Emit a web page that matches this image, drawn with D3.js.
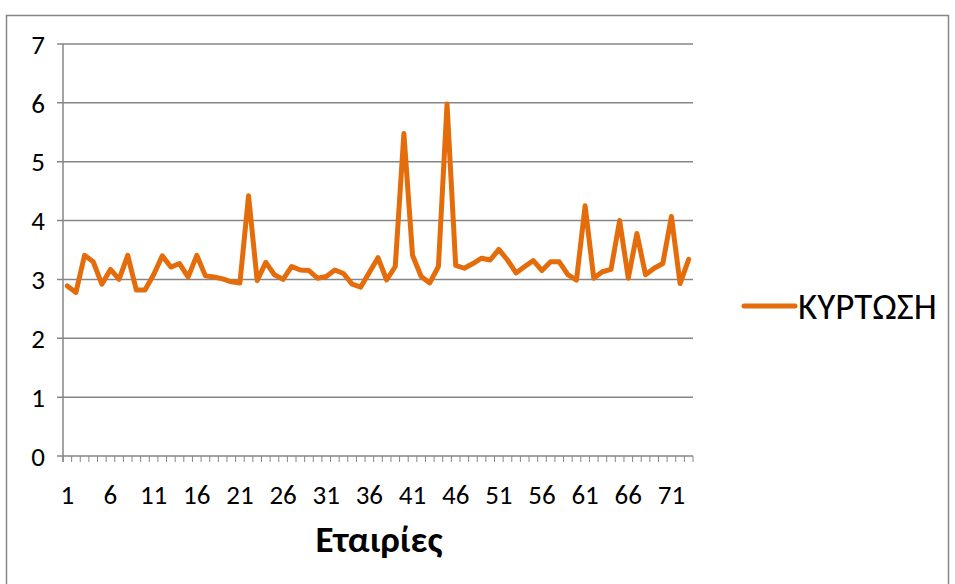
<!DOCTYPE html>
<html>
<head>
<meta charset="utf-8">
<script src="https://cdn.jsdelivr.net/npm/d3@7"></script>
<style>
  html, body { margin: 0; padding: 0; background: #fff; }
  svg text { font-family: Carlito, Lato, "Open Sans", sans-serif; fill: #000; }
</style>
</head>
<body>
<svg id="chart" width="955" height="584"></svg>
<script>
// Kurtosis per company (73 companies)
const companies = d3.range(1, 74);
const kurtosis = [
  2.89, 2.78, 3.41, 3.30, 2.92, 3.17, 3.00, 3.41, 2.82, 2.82,
  3.08, 3.40, 3.21, 3.27, 3.04, 3.41, 3.06, 3.04, 3.01, 2.96,
  2.94, 4.42, 2.98, 3.29, 3.08, 3.00, 3.22, 3.16, 3.15, 3.02,
  3.05, 3.16, 3.10, 2.92, 2.87, 3.12, 3.37, 2.99, 3.22, 5.48,
  3.41, 3.05, 2.94, 3.22, 5.98, 3.24, 3.19, 3.27, 3.36, 3.33,
  3.51, 3.33, 3.11, 3.22, 3.32, 3.15, 3.30, 3.30, 3.08, 2.99,
  4.25, 3.02, 3.13, 3.17, 4.00, 3.02, 3.78, 3.08, 3.19, 3.27,
  4.07, 2.93, 3.34
];
const yTicks = [0, 1, 2, 3, 4, 5, 6, 7];
const xLabelStep = 5;
const seriesName = "ΚΥΡΤΩΣΗ";
const xTitle = "Εταιρίες";

const svg = d3.select("#chart");
const gridColor = "#868686";
const lineColor = "#E46C0A";

// outer chart frame
svg.append("rect")
  .attr("x", 6.5).attr("y", 15.5)
  .attr("width", 942).attr("height", 570)
  .attr("fill", "none").attr("stroke", gridColor).attr("stroke-width", 1.5);

const plot = { left: 63, right: 693, top: 44, bottom: 456 };

const x = d3.scaleBand()
  .domain(companies)
  .range([plot.left, plot.right])
  .paddingInner(0).paddingOuter(0);

const y = d3.scaleLinear()
  .domain([0, 7])
  .range([plot.bottom, plot.top]);

// horizontal gridlines with small left ticks
svg.append("g")
  .selectAll("line")
  .data(yTicks.filter(d => d > 0))
  .join("line")
  .attr("x1", plot.left - 6).attr("x2", plot.right)
  .attr("y1", d => y(d)).attr("y2", d => y(d))
  .attr("stroke", gridColor).attr("stroke-width", 1.5);

// y-axis line
svg.append("line")
  .attr("x1", plot.left).attr("x2", plot.left)
  .attr("y1", plot.top).attr("y2", plot.bottom + 6)
  .attr("stroke", gridColor).attr("stroke-width", 1.5);

// x-axis line
svg.append("line")
  .attr("x1", plot.left - 6).attr("x2", plot.right)
  .attr("y1", plot.bottom).attr("y2", plot.bottom)
  .attr("stroke", gridColor).attr("stroke-width", 1.5);

// x-axis ticks at category boundaries
const boundaries = companies.map(c => x(c)).concat([x(companies[companies.length - 1]) + x.bandwidth()]);
svg.append("g")
  .selectAll("line")
  .data(boundaries)
  .join("line")
  .attr("x1", d => d).attr("x2", d => d)
  .attr("y1", plot.bottom).attr("y2", plot.bottom + 6)
  .attr("stroke", gridColor).attr("stroke-width", 1);

// y tick labels
svg.append("g")
  .selectAll("text")
  .data(yTicks)
  .join("text")
  .attr("x", 45).attr("y", d => y(d))
  .attr("dy", "0.36em")
  .attr("text-anchor", "end")
  .attr("font-size", 27)
  .text(d => d);

// x tick labels every 5th company
svg.append("g")
  .selectAll("text")
  .data(companies.filter(c => (c - 1) % xLabelStep === 0))
  .join("text")
  .attr("x", d => x(d) + x.bandwidth() / 2)
  .attr("y", 494)
  .attr("dy", "0.36em")
  .attr("text-anchor", "middle")
  .attr("font-size", 27)
  .text(d => d);

// x-axis title
svg.append("text")
  .attr("x", 379).attr("y", 539)
  .attr("dy", "0.36em")
  .attr("text-anchor", "middle")
  .attr("font-size", 37)
  .attr("font-weight", "bold")
  .text(xTitle);

// kurtosis line
const line = d3.line()
  .x((d, i) => x(companies[i]) + x.bandwidth() / 2)
  .y(d => y(d));

svg.append("path")
  .datum(kurtosis)
  .attr("d", line)
  .attr("fill", "none")
  .attr("stroke", lineColor)
  .attr("stroke-width", 5)
  .attr("stroke-linejoin", "round")
  .attr("stroke-linecap", "round");

// legend
svg.append("line")
  .attr("x1", 744).attr("x2", 795)
  .attr("y1", 306).attr("y2", 306)
  .attr("stroke", lineColor).attr("stroke-width", 5)
  .attr("stroke-linecap", "round");
svg.append("text")
  .attr("x", 798).attr("y", 306)
  .attr("dy", "0.36em")
  .attr("font-size", 37)
  .text(seriesName);
</script>
</body>
</html>
